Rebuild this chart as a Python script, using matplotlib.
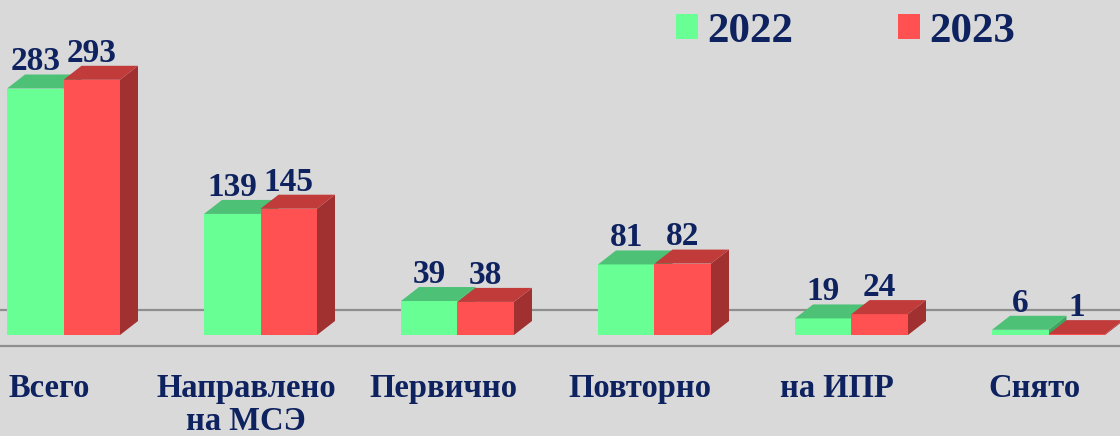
import matplotlib
matplotlib.use("Agg")
import matplotlib.pyplot as plt
from matplotlib.patches import Polygon, Patch

categories = ["Всего", "Направлено\nна МСЭ", "Первично", "Повторно", "на ИПР", "Снято"]
series_names = ["2022", "2023"]
values_2022 = [283, 139, 39, 81, 19, 6]
values_2023 = [293, 145, 38, 82, 24, 1]

# styles
BG = "#D9D9D9"
NAVY = "#0E225F"
front_cols = ["#68FF94", "#FF5151"]
top_cols = ["#4DC277", "#C23B3B"]
side_cols = ["#3FA561", "#A13030"]
FONT = "Liberation Serif"

W, H, DPI = 1120, 436, 100
fig = plt.figure(figsize=(W / DPI, H / DPI), dpi=DPI, facecolor=BG)
ax = fig.add_axes([0, 0, 1, 1])
ax.set_facecolor(BG)
for s in ax.spines.values():
    s.set_visible(False)
ax.set_xticks([])
ax.set_yticks([])

group_px = 197.0
k = 0.871  # px per unit
x0_px = 63.5
ax.set_xlim(-x0_px / group_px, (W - x0_px) / group_px)
ax.set_ylim(-101 / k, (H - 101) / k)

w = 56.5 / group_px
dx = 18 / group_px
dy = 14 / k

# floor lines
ax.axhline(25 / k, color="#8F8F8F", lw=1.6, zorder=0)
ax.axhline(-11 / k, color="#8F8F8F", lw=1.6, zorder=0)

x = list(range(len(categories)))
for si, vals in enumerate([values_2022, values_2023]):
    offs = -w / 2 if si == 0 else w / 2
    xs = [xi + offs for xi in x]
    bars = ax.bar(xs, vals, width=w, color=front_cols[si], edgecolor="none",
                  zorder=2 + si * 2)
    for b, v in zip(bars, vals):
        xl = b.get_x()
        xr = xl + b.get_width()
        top = Polygon([(xl, v), (xr, v), (xr + dx, v + dy), (xl + dx, v + dy)],
                      closed=True, facecolor=top_cols[si], edgecolor="none",
                      zorder=2 + si * 2)
        side = Polygon([(xr, 0), (xr + dx, dy), (xr + dx, v + dy), (xr, v)],
                       closed=True, facecolor=side_cols[si], edgecolor="none",
                       zorder=1.9 + si * 2)
        ax.add_patch(top)
        ax.add_patch(side)
        ax.annotate(str(v), (xl + b.get_width() / 2, v + dy), xytext=(0, 3),
                    textcoords="offset points", ha="center", va="baseline",
                    fontsize=24, fontweight="bold", family=FONT, color=NAVY,
                    zorder=10)

# category labels (each line placed on its own baseline)
for xi, c in zip(x, categories):
    for j, line in enumerate(c.split("\n")):
        ax.text(xi - 14.5 / group_px, (-62 - 33 * j) / k, line, ha="center",
                va="baseline", fontsize=23.5, fontweight="bold", family=FONT,
                color=NAVY)

handles = [Patch(facecolor=front_cols[i], edgecolor="none", label=series_names[i])
           for i in range(2)]
leg = fig.legend(handles=handles, loc="center left",
                 bbox_to_anchor=(676 / W, 1 - 32 / H), ncol=2, frameon=False,
                 prop={"family": FONT, "weight": "bold", "size": 31},
                 handlelength=0.5, handleheight=0.5, handletextpad=0.22,
                 columnspacing=2.45, borderpad=0, borderaxespad=0)
for t in leg.get_texts():
    t.set_color(NAVY)

fig.savefig("out.png", dpi=DPI, facecolor=BG)
